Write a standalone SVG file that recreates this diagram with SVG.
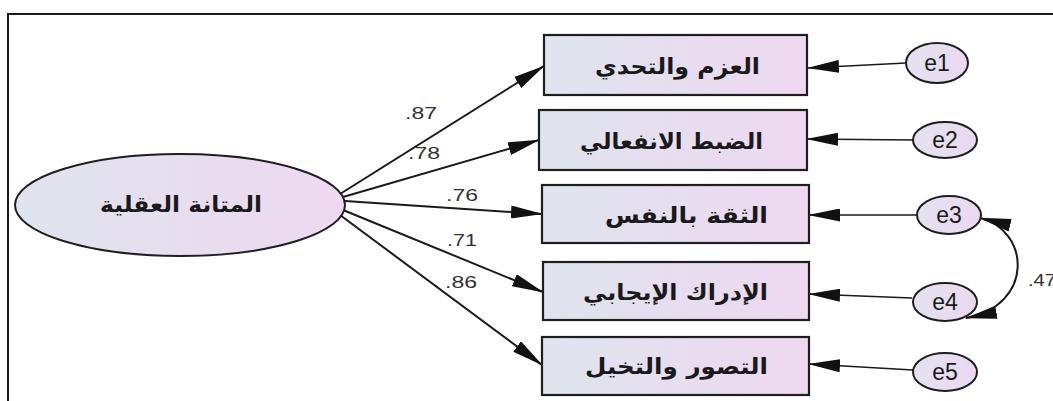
<svg xmlns="http://www.w3.org/2000/svg" width="1053" height="401" viewBox="0 0 1053 401">
  <style>
    .box { stroke: #1e1e1e; stroke-width: 2.2; fill: url(#gBox); }
    .lat { stroke: #1e1e1e; stroke-width: 2; fill: url(#gBox); }
    .err { stroke: #1e1e1e; stroke-width: 2; fill: url(#gErr); }
    .ar { font-family: "DejaVu Sans", "Noto Sans", sans-serif; font-weight: bold; font-size: 22px; fill: #1a1a1a; text-anchor: middle; dominant-baseline: central; }
    .el { font-family: "Liberation Sans", Arial, sans-serif; font-size: 23px; fill: #1a1a1a; text-anchor: middle; dominant-baseline: central; }
    .num { font-family: "Liberation Sans", Arial, sans-serif; font-size: 17px; fill: #333; }
    .path { stroke: #1a1a1a; stroke-width: 2; fill: none; marker-end: url(#ah); }
    .epath { stroke: #1a1a1a; stroke-width: 1.6; fill: none; marker-end: url(#ah); }
    .cov { stroke: #1a1a1a; stroke-width: 2; fill: none; marker-start: url(#ah); marker-end: url(#ah); }
  </style>
  <defs>
    <linearGradient id="gBox" x1="0" y1="0" x2="1" y2="0">
      <stop offset="0" stop-color="#dfe4ee"/>
      <stop offset="1" stop-color="#eed8f0"/>
    </linearGradient>
    <linearGradient id="gErr" x1="0" y1="0" x2="1" y2="0">
      <stop offset="0" stop-color="#e4e2f0"/>
      <stop offset="1" stop-color="#ead8f0"/>
    </linearGradient>
    <marker id="ah" markerUnits="userSpaceOnUse" markerWidth="32" markerHeight="13" refX="31" refY="6.5" orient="auto-start-reverse">
      <path d="M0,0 L32,6.5 L0,13 Z" fill="#111"/>
    </marker>
  </defs>
  <rect width="1053" height="401" fill="#fff"/>
  <!-- frame -->
  <path d="M8,401 L8,14 L1053,14" fill="none" stroke="#1a1a1a" stroke-width="2"/>

  <g id="connectors">
    <line class="path" x1="340" y1="194" x2="544" y2="66"/>
    <line class="path" x1="343" y1="197" x2="539" y2="140"/>
    <line class="path" x1="345" y1="201" x2="542" y2="214"/>
    <line class="path" x1="343" y1="210" x2="543" y2="292"/>
    <line class="path" x1="340" y1="215" x2="542" y2="365"/>
    <line class="epath" x1="906" y1="63" x2="808" y2="68"/>
    <line class="epath" x1="913" y1="140" x2="807" y2="139"/>
    <line class="epath" x1="917" y1="215" x2="809" y2="215"/>
    <line class="epath" x1="912" y1="298" x2="809" y2="294"/>
    <line class="epath" x1="913" y1="370" x2="809" y2="364"/>
    <path class="cov" d="M980,218 C1030,230 1035,305 966,318"/>
    <text class="num" x="405" y="119" textLength="32" lengthAdjust="spacingAndGlyphs">.87</text>
    <text class="num" x="408" y="159" textLength="32" lengthAdjust="spacingAndGlyphs">.78</text>
    <text class="num" x="446" y="201" textLength="32" lengthAdjust="spacingAndGlyphs">.76</text>
    <text class="num" x="447" y="246" textLength="30" lengthAdjust="spacingAndGlyphs">.71</text>
    <text class="num" x="445" y="288" textLength="32" lengthAdjust="spacingAndGlyphs">.86</text>
    <text class="num" x="1028" y="286" textLength="28" lengthAdjust="spacingAndGlyphs">.47</text>
  </g>

  <g id="latent">
    <ellipse class="lat" cx="180" cy="205" rx="165" ry="51"/>
    <text class="ar" x="100" y="204" text-anchor="start" style="text-anchor:start" textLength="162" lengthAdjust="spacingAndGlyphs">المتانة العقلية</text>
  </g>

  <g id="box1">
    <rect class="box" x="544" y="35" width="263" height="60"/>
    <text class="ar" x="595" y="66" style="text-anchor:start" textLength="165" lengthAdjust="spacingAndGlyphs">العزم والتحدي</text>
  </g>
  <g id="box2">
    <rect class="box" x="539" y="110" width="268" height="60"/>
    <text class="ar" x="580" y="141" style="text-anchor:start" textLength="183" lengthAdjust="spacingAndGlyphs">الضبط الانفعالي</text>
  </g>
  <g id="box3">
    <rect class="box" x="542" y="185" width="267" height="58"/>
    <text class="ar" x="605" y="215" style="text-anchor:start" textLength="163" lengthAdjust="spacingAndGlyphs">الثقة بالنفس</text>
  </g>
  <g id="box4">
    <rect class="box" x="543" y="262" width="266" height="58"/>
    <text class="ar" x="583" y="292" style="text-anchor:start" textLength="185" lengthAdjust="spacingAndGlyphs">الإدراك الإيجابي</text>
  </g>
  <g id="box5">
    <rect class="box" x="542" y="337" width="267" height="58"/>
    <text class="ar" x="585" y="366" style="text-anchor:start" textLength="183" lengthAdjust="spacingAndGlyphs">التصور والتخيل</text>
  </g>

  <g id="e1">
    <ellipse class="err" cx="937" cy="63" rx="31" ry="20"/>
    <text class="el" x="937" y="63">e1</text>
  </g>
  <g id="e2">
    <ellipse class="err" cx="945" cy="140" rx="32" ry="18"/>
    <text class="el" x="945" y="140">e2</text>
  </g>
  <g id="e3">
    <ellipse class="err" cx="949" cy="215" rx="32" ry="19"/>
    <text class="el" x="949" y="215">e3</text>
  </g>
  <g id="e4">
    <ellipse class="err" cx="945" cy="302" rx="32" ry="19"/>
    <text class="el" x="945" y="302">e4</text>
  </g>
  <g id="e5">
    <ellipse class="err" cx="945" cy="372" rx="32" ry="19"/>
    <text class="el" x="945" y="372">e5</text>
  </g>
</svg>
